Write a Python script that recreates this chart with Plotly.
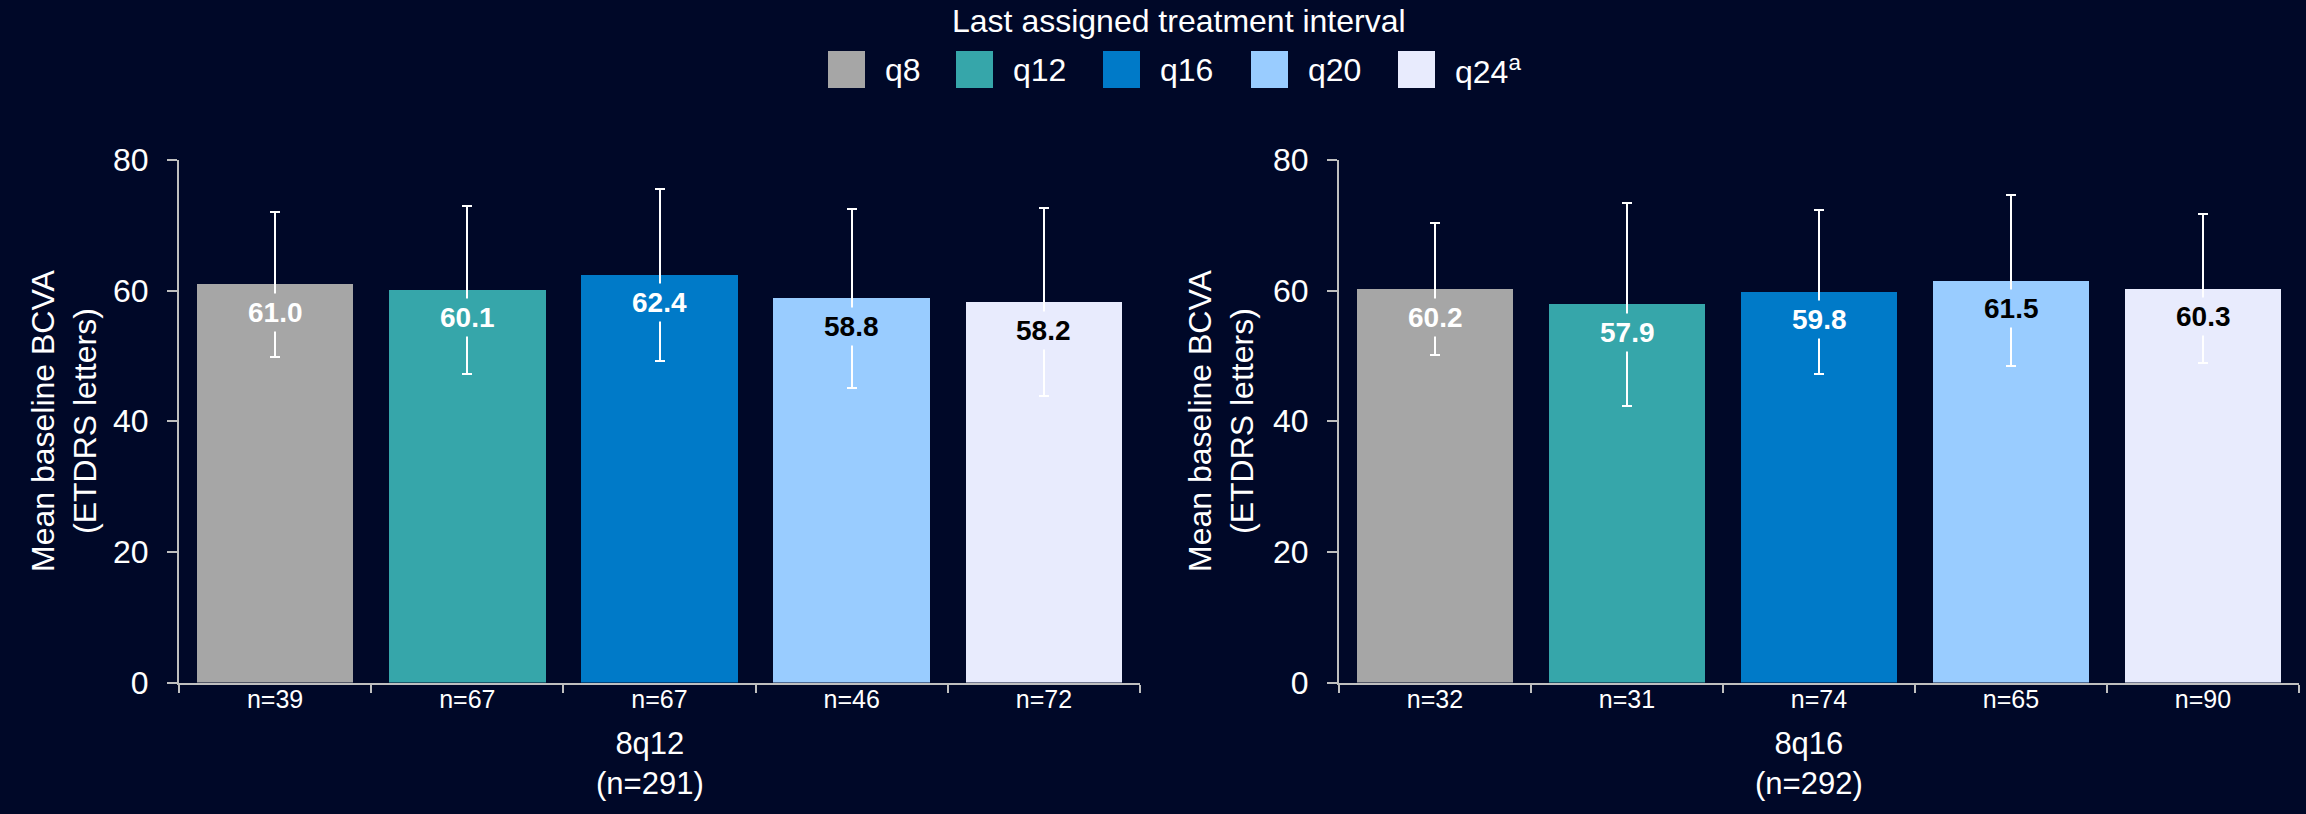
import plotly.graph_objects as go

W, H = 2306, 814

# ---- data ----
intervals = ["q8", "q12", "q16", "q20", "q24"]
legend_labels = ["q8", "q12", "q16", "q20", "q24<sup>a</sup>"]
colors = ["#A6A6A6", "#36A6AA", "#007AC8", "#99CCFF", "#E8EBFD"]
label_colors = ["#FFFFFF", "#FFFFFF", "#FFFFFF", "#000000", "#000000"]

group_names = ["8q12<br>(n=291)", "8q16<br>(n=292)"]
means_8q12 = [61.0, 60.1, 62.4, 58.8, 58.2]
sd_8q12 = [11.1, 12.8, 13.2, 13.7, 14.4]
n_8q12 = ["n=39", "n=67", "n=67", "n=46", "n=72"]

means_8q16 = [60.2, 57.9, 59.8, 61.5, 60.3]
sd_8q16 = [10.1, 15.5, 12.6, 13.1, 11.4]
n_8q16 = ["n=32", "n=31", "n=74", "n=65", "n=90"]

y_ticks = [0, 20, 40, 60, 80]
y_title = "Mean baseline BCVA<br>(ETDRS letters)"
legend_title = "Last assigned treatment interval"

# ---- style ----
BG = "#000828"
AX = "#BFBFBF"
FONT = "Arial, Liberation Sans, sans-serif"

def px_x(p):
    return p / W

def px_y(p):
    return 1 - p / H

panels = [
    dict(means=means_8q12, sd=sd_8q12, n=n_8q12, name=group_names[0],
         xa="x", ya="y", dom=[px_x(179), px_x(1140)], title_x=64),
    dict(means=means_8q16, sd=sd_8q16, n=n_8q16, name=group_names[1],
         xa="x2", ya="y2", dom=[px_x(1339), px_x(2299)], title_x=1221),
]
ydom = [px_y(682.5), px_y(160)]

fig = go.Figure()
annotations = []
shapes = []
xpos = list(range(len(intervals)))

for k, p in enumerate(panels):
    fig.add_trace(go.Bar(
        x=xpos, y=p["means"], xaxis=p["xa"], yaxis=p["ya"],
        marker=dict(color=colors, line=dict(width=0)),
        width=0.815, showlegend=False,
        error_y=dict(type="data", array=p["sd"], visible=True,
                     color="#FFFFFF", thickness=2, width=5),
    ))
    for i, v in enumerate(p["means"]):
        annotations.append(dict(
            x=i, y=v, xref=p["xa"], yref=p["ya"], text=f"<b>{v:.1f}</b>",
            showarrow=False, yanchor="middle", xanchor="center", yshift=-28,
            bgcolor=colors[i], borderpad=3,
            font=dict(family=FONT, size=28, color=label_colors[i]),
        ))
    # group label
    annotations.append(dict(
        x=0.49, y=px_y(724), xref=f"{p['xa']} domain", yref="paper",
        text=p["name"], showarrow=False, xanchor="center", yanchor="top",
        font=dict(family=FONT, size=31, color="#FFFFFF"),
    ))
    # y title
    annotations.append(dict(
        x=px_x(p["title_x"]), y=px_y(421), xref="paper", yref="paper",
        text=y_title, showarrow=False, textangle=-90,
        xanchor="center", yanchor="middle",
        font=dict(family=FONT, size=32, color="#FFFFFF"),
    ))

axis_common_x = dict(
    range=[-0.5, len(intervals) - 0.5],
    tickmode="array", tickvals=xpos, ticks="",
    showline=True, linecolor=AX, linewidth=2,
    showgrid=False, zeroline=False, automargin=False,
    tickfont=dict(family=FONT, size=25, color="#FFFFFF"),
    ticklabelstandoff=-7,
    minor=dict(tickmode="array", tickvals=[i - 0.5 for i in range(len(intervals) + 1)],
               ticks="outside", ticklen=8, tickwidth=2, tickcolor=AX, showgrid=False),
    fixedrange=True,
)
axis_common_y = dict(
    range=[0, 80], tickmode="array", tickvals=y_ticks,
    ticks="outside", ticklen=10, tickwidth=2, tickcolor=AX,
    showline=True, linecolor=AX, linewidth=2,
    showgrid=False, zeroline=False, domain=ydom, automargin=False,
    tickfont=dict(family=FONT, size=32, color="#FFFFFF"),
    ticklabelstandoff=12,
)

fig.update_layout(
    xaxis=dict(domain=panels[0]["dom"], anchor="y", ticktext=n_8q12, **axis_common_x),
    xaxis2=dict(domain=panels[1]["dom"], anchor="y2", ticktext=n_8q16, **axis_common_x),
    yaxis=dict(anchor="x", **axis_common_y),
    yaxis2=dict(anchor="x2", **axis_common_y),
)

# Legend title and manual legend
annotations.append(dict(
    x=px_x(1179), y=px_y(21), xref="paper", yref="paper", text=legend_title,
    showarrow=False, xanchor="center", yanchor="middle",
    font=dict(family=FONT, size=32, color="#FFFFFF"),
))
swatch_x = [828, 956, 1103, 1251, 1398]
SW = 37
for i, lab in enumerate(legend_labels):
    x0 = swatch_x[i]
    shapes.append(dict(type="rect", xref="paper", yref="paper",
                       x0=px_x(x0), x1=px_x(x0 + SW), y0=px_y(88), y1=px_y(51),
                       fillcolor=colors[i], line=dict(width=0)))
    annotations.append(dict(
        x=px_x(x0 + SW + 18), y=px_y(70), xref="paper", yref="paper", text=lab,
        showarrow=False, xanchor="left", yanchor="middle",
        font=dict(family=FONT, size=32, color="#FFFFFF"),
    ))

fig.update_layout(
    width=W, height=H,
    margin=dict(l=0, r=0, t=0, b=0, pad=0, autoexpand=False),
    paper_bgcolor=BG, plot_bgcolor=BG,
    annotations=annotations, shapes=shapes,
    showlegend=False, bargap=0,
    font=dict(family=FONT, color="#FFFFFF"),
)

fig.write_html("out.html", config={"displayModeBar": False})
